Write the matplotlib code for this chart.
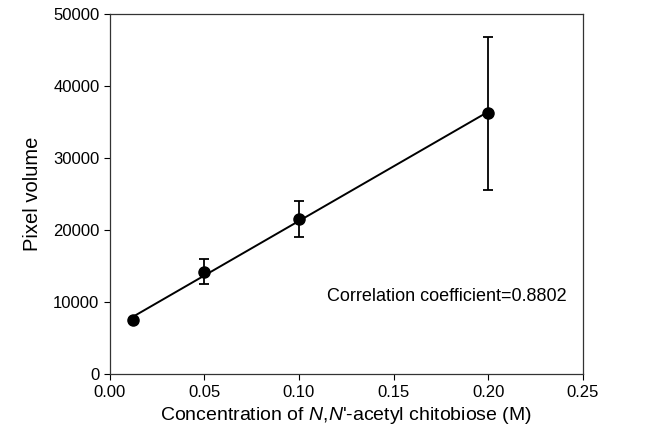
import numpy as np
from matplotlib import pyplot as plt

plt.rcParams['font.family'] = ['Liberation Sans', 'DejaVu Sans']
plt.rcParams['mathtext.fontset'] = 'custom'
plt.rcParams['mathtext.it'] = 'Liberation Sans:italic'

# measured points: concentration (M) vs pixel volume
conc = [0.0125, 0.05, 0.10, 0.20]
volume = [7500, 14150, 21500, 36200]
err_low = [0, 1700, 2500, 10700]
err_high = [0, 1800, 2500, 10600]

x_ticks = [0.00, 0.05, 0.10, 0.15, 0.20, 0.25]
y_ticks = [0, 10000, 20000, 30000, 40000, 50000]


def draw_chart():
    fig = plt.figure(figsize=(6.46, 4.33), dpi=100)
    ax = fig.add_axes([0.170, 0.136, 0.732, 0.832])

    # linear fit through the measured points
    slope, intercept = np.polyfit(conc, volume, 1)
    fit_x = np.array([min(conc), max(conc)])
    ax.plot(fit_x, slope * fit_x + intercept, color='black', lw=1.4)

    yerr = [[e if e else np.nan for e in err_low],
            [e if e else np.nan for e in err_high]]
    ax.errorbar(conc, volume, yerr=yerr, fmt='o', color='black',
                ms=8, elinewidth=1.3, capsize=3.5, capthick=1.3)

    ax.text(0.115, 10800, 'Correlation coefficient=0.8802',
            fontsize=13, va='center', ha='left')

    ax.set_xlim(0, 0.25)
    ax.set_ylim(0, 50000)
    ax.set_xticks(x_ticks)
    ax.set_xticklabels([format(t, '.2f') for t in x_ticks])
    ax.set_yticks(y_ticks)
    ax.set_yticklabels([str(t) for t in y_ticks])
    ax.tick_params(direction='out', length=4, width=0.8, labelsize=12)

    for spine in ax.spines.values():
        spine.set_linewidth(0.9)
        spine.set_color('#333333')

    ax.set_xlabel("Concentration of $\\it{N}$,$\\it{N}$'-acetyl chitobiose (M)",
                  fontsize=14, labelpad=4)
    ax.set_ylabel('Pixel volume', fontsize=14.5, labelpad=8)

    fig.savefig('out.png', dpi=100)


draw_chart()
